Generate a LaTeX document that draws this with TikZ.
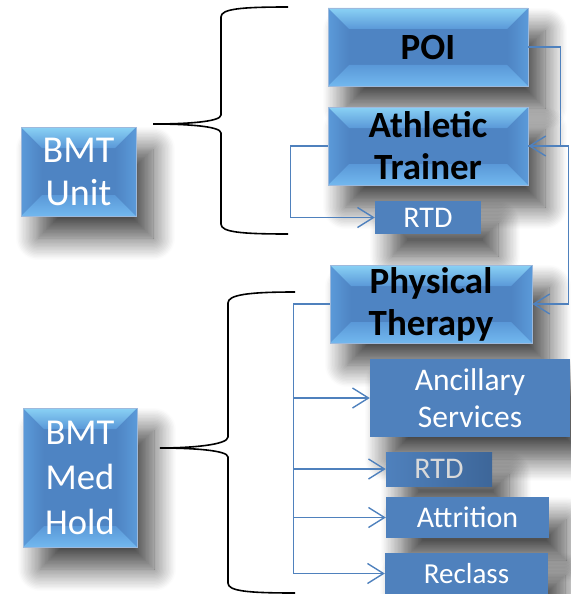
\documentclass[tikz,border=0pt]{standalone}
\usepackage{fontspec}
\setmainfont{Carlito}
\usetikzlibrary{arrows.meta,shadows.blur}
\definecolor{boxblue}{HTML}{4F81BD}
\definecolor{face}{HTML}{4E84C3}
\definecolor{bevlight}{HTML}{8AD2F5}
\definecolor{bevmid}{HTML}{5A98D8}
\definecolor{bevside}{HTML}{5B9AD9}
\definecolor{bevbot}{HTML}{72B8EE}
\definecolor{bordercol}{HTML}{9DB9DC}
\definecolor{conncol}{HTML}{4F81BD}
\definecolor{rtddark}{HTML}{3D6699}
\def\bevd{21pt}
\begin{document}
\begin{tikzpicture}[x=1pt,y=-1pt,
  shadowed/.style={blur shadow={shadow xshift=17pt, shadow yshift=-22pt, shadow blur radius=22pt, shadow blur steps=16, shadow opacity=72}},
  flatbox/.style={shadowed, fill=boxblue, text=white, inner sep=0pt, align=center},
  bevelbox/.style={shadowed, fill=face, draw=bordercol, line width=0.8pt, inner sep=0pt, align=center,
    path picture={
      \coordinate (bNW) at (path picture bounding box.north west);
      \coordinate (bNE) at (path picture bounding box.north east);
      \coordinate (bSW) at (path picture bounding box.south west);
      \coordinate (bSE) at (path picture bounding box.south east);
      \shade[left color=bevside, right color=face] (bNW) -- ([xshift=\bevd,yshift=-\bevd]bNW) -- ([xshift=\bevd,yshift=\bevd]bSW) -- (bSW) -- cycle;
      \shade[right color=bevside, left color=face] (bNE) -- ([xshift=-\bevd,yshift=-\bevd]bNE) -- ([xshift=-\bevd,yshift=\bevd]bSE) -- (bSE) -- cycle;
      \shade[top color=bevlight, bottom color=bevmid] (bNW) -- (bNE) -- ([xshift=-\bevd,yshift=-\bevd]bNE) -- ([xshift=\bevd,yshift=-\bevd]bNW) -- cycle;
      \shade[bottom color=bevbot, top color=bevmid] (bSW) -- (bSE) -- ([xshift=-\bevd,yshift=\bevd]bSE) -- ([xshift=\bevd,yshift=\bevd]bSW) -- cycle;
    }},
  boldtext/.style={font=\fontsize{37}{42}\selectfont\bfseries, text=black},
  conn/.style={draw=conncol, line width=1.4pt, -{Straight Barb[length=16pt,width=20pt,line width=1.4pt]}},
  brace/.style={draw=black, line width=1.6pt}
]
\useasboundingbox (0,0) rectangle (570,594);

% braces
\draw[brace] (288,7) .. controls (240,7) and (221,9) .. (221,17) -- (221,115) .. controls (221,122) and (185,124) .. (153,124) .. controls (185,124) and (221,126) .. (221,133) -- (221,224) .. controls (221,232) and (240,234) .. (288,234);
\draw[brace] (295,292) .. controls (247,292) and (228,295) .. (228,303) -- (228,437) .. controls (228,445) and (190,448) .. (160,448) .. controls (190,448) and (228,450) .. (228,457) -- (228,583) .. controls (228,591) and (247,593) .. (295,593);

% left boxes
\node[bevelbox, minimum width=115pt, minimum height=89pt, text=white, font=\fontsize{38}{43}\selectfont] (unit) at (78.5,171.5) {BMT\\Unit};
\node[bevelbox, minimum width=114pt, minimum height=139pt, text=white, font=\fontsize{36.5}{45}\selectfont] (medhold) at (80,477.5) {BMT\\Med\\Hold};

% right boxes
\node[bevelbox, boldtext, minimum width=200pt, minimum height=78pt] (poi) at (428,47) {POI};
\node[bevelbox, boldtext, minimum width=200pt, minimum height=78pt] (at) at (428,146) {Athletic\\Trainer};
\node[flatbox, minimum width=106pt, minimum height=33pt, font=\fontsize{30}{32}\selectfont] (rtda) at (428,217.5) {RTD};
\node[bevelbox, boldtext, minimum width=202pt, minimum height=78pt] (pt) at (431,304) {Physical\\Therapy};
\node[flatbox, minimum width=200pt, minimum height=78pt, font=\fontsize{31.5}{37}\selectfont] (anc) at (470,398) {Ancillary\\Services};
\node[flatbox, left color=boxblue, right color=rtddark, text=white!85!black, minimum width=106pt, minimum height=34pt, font=\fontsize{30}{32}\selectfont] (rtdb) at (439,469) {RTD};
\node[flatbox, minimum width=163pt, minimum height=41pt, font=\fontsize{30}{33}\selectfont] (attr) at (467.5,517.5) {Attrition};
\node[flatbox, minimum width=163pt, minimum height=41pt, font=\fontsize{29}{33}\selectfont] (recl) at (466.5,573.5) {Reclass};

% connectors
\draw[conn] (poi.east) -- ++(32,0) |- (at.east);
\draw[conn] (at.east) -- ++(40,0) |- (pt.east);
\draw[conn] (at.west) -- ++(-37,0) |- (rtda.west);
\draw[conn] (pt.west) -- ++(-36,0) |- (anc.west);
\draw[conn] (pt.west) -- ++(-36,0) |- (rtdb.west);
\draw[conn] (pt.west) -- ++(-36,0) |- (attr.west);
\draw[conn] (pt.west) -- ++(-36,0) |- (recl.west);
\end{tikzpicture}
\end{document}
